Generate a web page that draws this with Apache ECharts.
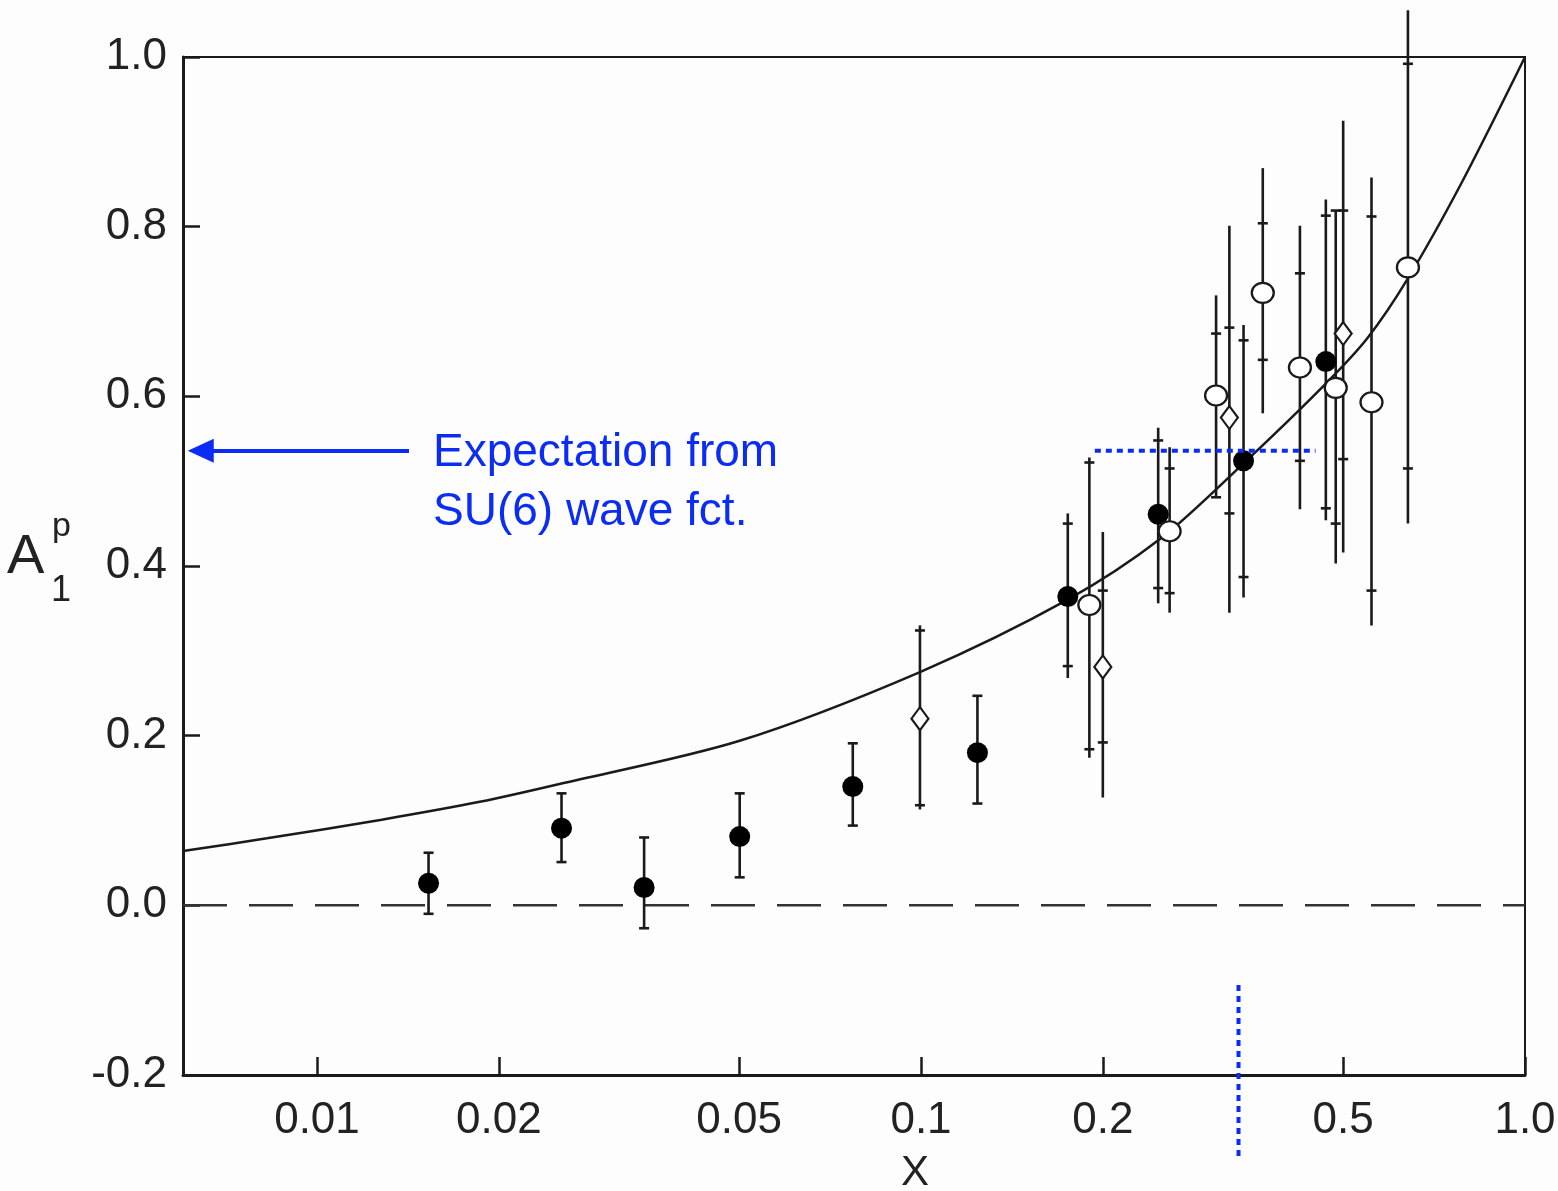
<!DOCTYPE html>
<html>
<head>
<meta charset="utf-8">
<script src="https://cdn.jsdelivr.net/npm/echarts@6/dist/echarts.min.js"></script>
<style>
  html, body { margin: 0; padding: 0; background: #fdfdfd; }
  #chart { width: 1558px; height: 1191px; }
</style>
</head>
<body>
<div id="chart"></div>
<script>
// axis ticks
var xTicks = [0.01, 0.02, 0.05, 0.1, 0.2, 0.5, 1.0];
var xMin = 0.006, xMax = 1.0;

// filled circles (x, A1, bar ends, inner ticks)
var fullX      = [0.0153, 0.0254, 0.0348, 0.0501, 0.0771, 0.124, 0.175, 0.247, 0.342, 0.468];
var fullY      = [0.026, 0.091, 0.021, 0.081, 0.140, 0.180, 0.364, 0.461, 0.524, 0.641];
var fullLo     = [-0.010, 0.051, -0.027, 0.033, 0.094, 0.120, 0.268, 0.356, 0.363, 0.454];
var fullHi     = [0.062, 0.132, 0.080, 0.132, 0.191, 0.247, 0.462, 0.563, 0.684, 0.832];
var fullStatLo = [-0.010, 0.051, -0.027, 0.033, 0.094, 0.120, 0.282, 0.374, 0.387, 0.468];
var fullStatHi = [0.062, 0.132, 0.080, 0.132, 0.191, 0.247, 0.450, 0.548, 0.666, 0.813];

// open circles
var openX      = [0.190, 0.258, 0.308, 0.368, 0.424, 0.486, 0.557, 0.640];
var openY      = [0.354, 0.441, 0.601, 0.722, 0.634, 0.610, 0.593, 0.752];
var openLo     = [0.174, 0.345, 0.481, 0.580, 0.467, 0.403, 0.330, 0.450];
var openHi     = [0.528, 0.540, 0.719, 0.869, 0.801, 0.819, 0.858, 1.055];
var openStatLo = [0.184, 0.368, 0.481, 0.643, 0.524, 0.450, 0.371, 0.515];
var openStatHi = [0.522, 0.515, 0.674, 0.804, 0.745, 0.819, 0.812, 0.992];

// open diamonds
var diaX      = [0.0996, 0.200, 0.324, 0.500];
var diaY      = [0.220, 0.281, 0.575, 0.674];
var diaLo     = [0.113, 0.127, 0.345, 0.416];
var diaHi     = [0.330, 0.440, 0.801, 0.925];
var diaStatLo = [0.118, 0.192, 0.462, 0.526];
var diaStatHi = [0.324, 0.371, 0.681, 0.819];

// model curve
var curveX = [0.0060, 0.00826, 0.0128, 0.0186, 0.0252, 0.0501, 0.0996, 0.1746, 0.249, 0.342, 0.468, 0.549, 0.640, 0.783, 1.0];
var curveY = [0.064, 0.079, 0.101, 0.122, 0.143, 0.194, 0.275, 0.360, 0.432, 0.521, 0.615, 0.669, 0.739, 0.850, 1.0];

// blue annotations
var su6Level = 0.536;
var arrowX = [0.0142, 0.00642];
var dotHX = [0.194, 0.450];
var dotVX = 0.3355;
var dotVY = [-0.094, -0.298];

var blue = '#0b2cf5';
var ink = '#1a1a1a';
var font = '"Liberation Sans", Arial, Helvetica, sans-serif';

function zip() {
  var cols = Array.prototype.slice.call(arguments);
  return cols[0].map(function (v, i) {
    return cols.map(function (c) { return c[i]; });
  });
}

function renderBar(params, api) {
  var x = api.value(0);
  var a = api.coord([x, api.value(1)]);
  var b = api.coord([x, api.value(2)]);
  var s1 = api.coord([x, api.value(3)]);
  var s2 = api.coord([x, api.value(4)]);
  var st = { stroke: ink, lineWidth: 2.6 };
  var w = 5;
  return {
    type: 'group',
    children: [
      { type: 'line', shape: { x1: a[0], y1: a[1], x2: b[0], y2: b[1] }, style: st },
      { type: 'line', shape: { x1: s1[0] - w, y1: s1[1], x2: s1[0] + w, y2: s1[1] }, style: st },
      { type: 'line', shape: { x1: s2[0] - w, y1: s2[1], x2: s2[0] + w, y2: s2[1] }, style: st }
    ]
  };
}

function barSeries(xs, lo, hi, slo, shi) {
  return {
    type: 'custom',
    renderItem: renderBar,
    clip: false,
    z: 2,
    silent: true,
    encode: { x: 0, y: [1, 2, 3, 4] },
    data: zip(xs, lo, hi, slo, shi)
  };
}

var chart = echarts.init(document.getElementById('chart'));

var option = {
  backgroundColor: '#fdfdfd',
  animation: false,
  grid: {
    left: 183, right: 33, top: 57, bottom: 116,
    show: true, borderColor: ink, borderWidth: 2,
    outerBoundsMode: 'none'
  },
  xAxis: {
    type: 'log',
    logBase: 10,
    min: xMin,
    max: xMax,
    axisLine: { onZero: false, lineStyle: { color: ink, width: 3 } },
    axisTick: { inside: true, length: 18, customValues: xTicks, lineStyle: { color: ink, width: 2.5 } },
    axisLabel: {
      customValues: xTicks,
      margin: 24,
      fontSize: 44,
      color: '#222',
      fontFamily: font,
      formatter: function (v) { return v === 1 ? '1.0' : String(v); }
    },
    splitLine: { show: false },
    minorTick: { show: false }
  },
  yAxis: {
    type: 'value',
    min: -0.2,
    max: 1.0,
    interval: 0.2,
    axisLine: { show: true, onZero: false, lineStyle: { color: ink, width: 3 } },
    axisTick: { show: true, inside: true, length: 17, lineStyle: { color: ink, width: 2.5 } },
    axisLabel: {
      margin: 16,
      fontSize: 44,
      color: '#222',
      fontFamily: font,
      formatter: function (v) { return v.toFixed(1); }
    },
    splitLine: { show: false }
  },
  graphic: [
    {
      type: 'text', left: 7, top: 530,
      style: { text: 'A', fontSize: 56, fill: '#222', fontFamily: font }
    },
    {
      type: 'text', left: 52, top: 510,
      style: { text: 'p', fontSize: 34, fill: '#222', fontFamily: font }
    },
    {
      type: 'text', left: 51, top: 573,
      style: { text: '1', fontSize: 36, fill: '#222', fontFamily: font }
    },
    {
      type: 'text', left: 901, top: 1152,
      style: { text: 'X', fontSize: 42, fill: '#222', fontFamily: font }
    },
    {
      type: 'text', left: 433, top: 424,
      style: {
        text: 'Expectation from\nSU(6) wave fct.',
        fontSize: 46, lineHeight: 59, fill: blue, fontFamily: font
      }
    }
  ],
  series: [
    {
      name: 'zero',
      type: 'line',
      data: [[xMin, 0], [xMax, 0]],
      symbol: 'none',
      silent: true,
      z: 1,
      lineStyle: { color: '#333', width: 2.5, type: [44, 22] }
    },
    {
      name: 'curve',
      type: 'line',
      data: zip(curveX, curveY),
      smooth: 0.3,
      symbol: 'none',
      silent: true,
      z: 3,
      lineStyle: { color: ink, width: 2.5 }
    },
    barSeries(fullX, fullLo, fullHi, fullStatLo, fullStatHi),
    barSeries(openX, openLo, openHi, openStatLo, openStatHi),
    barSeries(diaX, diaLo, diaHi, diaStatLo, diaStatHi),
    {
      name: 'filled',
      type: 'scatter',
      data: zip(fullX, fullY),
      symbol: 'circle',
      symbolSize: [21, 21],
      z: 5,
      itemStyle: { color: '#000', opacity: 1 }
    },
    {
      name: 'open',
      type: 'scatter',
      data: zip(openX, openY),
      symbol: 'circle',
      symbolSize: [22, 20],
      z: 5,
      itemStyle: { color: '#fff', borderColor: ink, borderWidth: 2.2, opacity: 1 }
    },
    {
      name: 'diamond',
      type: 'scatter',
      data: zip(diaX, diaY),
      symbol: 'diamond',
      symbolSize: [17, 23],
      z: 5,
      itemStyle: { color: '#fff', borderColor: ink, borderWidth: 2.2, opacity: 1 }
    },
    {
      name: 'dotH',
      type: 'line',
      data: [[dotHX[0], su6Level], [dotHX[1], su6Level]],
      symbol: 'none',
      silent: true,
      clip: false,
      z: 6,
      lineStyle: { color: blue, width: 4, type: [6, 5] }
    },
    {
      name: 'dotV',
      type: 'line',
      data: [[dotVX, dotVY[0]], [dotVX, dotVY[1]]],
      symbol: 'none',
      silent: true,
      clip: false,
      z: 6,
      lineStyle: { color: blue, width: 4, type: [6, 5] }
    },
    {
      name: 'arrow',
      type: 'line',
      data: [],
      silent: true,
      clip: false,
      markLine: {
        silent: true,
        animation: false,
        symbol: ['none', 'triangle'],
        symbolSize: [24, 26],
        label: { show: false },
        lineStyle: { color: blue, width: 4, type: 'solid' },
        data: [[
          { coord: [arrowX[0], su6Level] },
          { coord: [arrowX[1], su6Level] }
        ]]
      }
    }
  ]
};

chart.setOption(option);
</script>
</body>
</html>
